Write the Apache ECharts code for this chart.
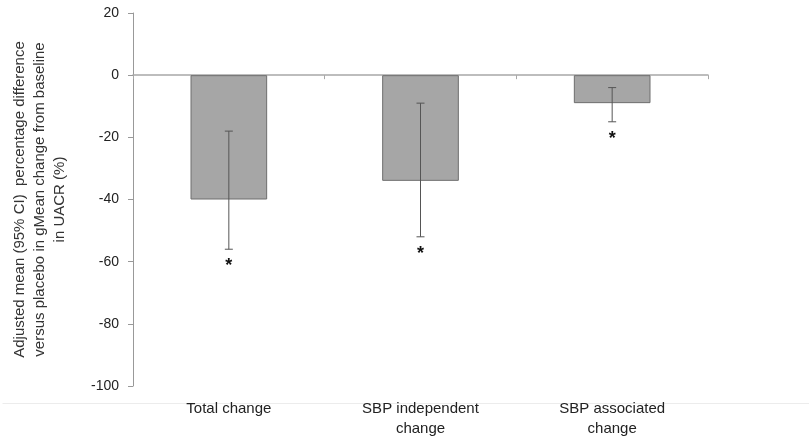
<!DOCTYPE html>
<html>
<head>
<meta charset="utf-8">
<script src="https://cdn.jsdelivr.net/npm/echarts@6/dist/echarts.min.js"></script>
<style>
  html, body { margin: 0; padding: 0; background: #ffffff; }
  #chart { width: 809px; height: 438px; }
</style>
</head>
<body>
<div id="chart"></div>
<script>
// Adjusted mean % difference vs placebo in gMean change from baseline in UACR
const categories = ['Total change', 'SBP independent\nchange', 'SBP associated\nchange'];
const meanDiff = [-40, -34, -9];
const ciLower = [-56, -52, -15];
const ciUpper = [-18, -9, -4];
const significant = [true, true, true];
const yTicks = { min: -100, max: 20, interval: 20 };

const errorData = categories.map((c, i) => [i, ciLower[i], ciUpper[i], significant[i] ? 1 : 0]);

const chart = echarts.init(document.getElementById('chart'), null, { renderer: 'canvas' });

const FONT = 'Liberation Sans, Arial, sans-serif';

chart.setOption({
  animation: false,
  backgroundColor: '#ffffff',
  grid: { left: 133, right: 101, top: 13, bottom: 52, containLabel: false, outerBoundsMode: 'none' },
  graphic: [{
    type: 'line',
    left: 0,
    top: 401,
    shape: { x1: 0, y1: 0, x2: 809, y2: 0 },
    style: { stroke: '#ececec', lineWidth: 1 },
    silent: true
  }],
  xAxis: [{
    type: 'category',
    data: categories,
    position: 'bottom',
    axisLine: { show: false, onZero: false },
    axisTick: { show: false },
    axisLabel: {
      margin: 13,
      color: '#222',
      fontFamily: FONT,
      fontSize: 15,
      lineHeight: 20,
      interval: 0
    }
  }, {
    type: 'category',
    data: categories,
    position: 'top',
    axisLine: { show: true, onZero: true, lineStyle: { color: '#a8a8a8', width: 1.5 } },
    axisTick: { show: true, inside: true, length: 4, lineStyle: { color: '#a8a8a8' } },
    axisLabel: { show: false }
  }],
  yAxis: {
    type: 'value',
    min: yTicks.min,
    max: yTicks.max,
    interval: yTicks.interval,
    name: 'Adjusted mean (95% CI)  percentage difference\nversus placebo in gMean change from baseline\nin UACR (%)',
    nameLocation: 'middle',
    nameGap: 63,
    nameTextStyle: {
      color: '#333',
      fontFamily: FONT,
      fontSize: 15,
      lineHeight: 20,
      align: 'center'
    },
    splitLine: { show: false },
    axisLine: { show: true, lineStyle: { color: '#999', width: 1 } },
    axisTick: { show: true, length: 5, lineStyle: { color: '#999' } },
    axisLabel: {
      margin: 14,
      color: '#222',
      fontFamily: FONT,
      fontSize: 14
    }
  },
  series: [{
    type: 'bar',
    xAxisIndex: 0,
    data: meanDiff,
    barWidth: '40%',
    itemStyle: { color: '#a6a6a6', borderColor: '#6e6e6e', borderWidth: 1 },
    z: 2
  }, {
    type: 'custom',
    xAxisIndex: 0,
    data: errorData,
    z: 5,
    renderItem: function (params, api) {
      const x = api.value(0);
      const lo = api.coord([x, api.value(1)]);
      const hi = api.coord([x, api.value(2)]);
      const cap = 4;
      const stroke = { stroke: '#555', lineWidth: 1 };
      const children = [
        { type: 'line', shape: { x1: lo[0], y1: lo[1], x2: hi[0], y2: hi[1] }, style: stroke },
        { type: 'line', shape: { x1: lo[0] - cap, y1: lo[1], x2: lo[0] + cap, y2: lo[1] }, style: stroke },
        { type: 'line', shape: { x1: hi[0] - cap, y1: hi[1], x2: hi[0] + cap, y2: hi[1] }, style: stroke }
      ];
      if (api.value(3)) {
        children.push({
          type: 'text',
          style: {
            text: '*',
            x: lo[0],
            y: lo[1] + 8,
            align: 'center',
            verticalAlign: 'top',
            fill: '#111',
            font: 'bold 18px ' + FONT
          }
        });
      }
      return { type: 'group', children: children };
    }
  }]
});
</script>
</body>
</html>
